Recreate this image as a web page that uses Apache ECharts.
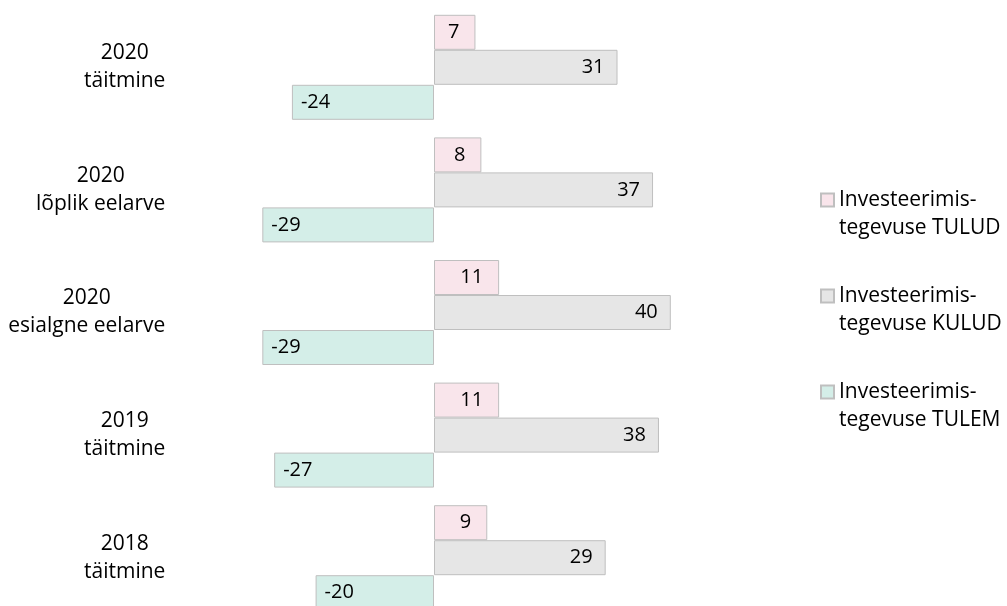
<!DOCTYPE html>
<html>
<head>
<meta charset="utf-8">
<script src="https://cdn.jsdelivr.net/npm/echarts@6/dist/echarts.min.js"></script>
<style>html,body{margin:0;padding:0;background:#fff}#c{width:1007px;height:606px}</style>
</head>
<body>
<div id="c"></div>
<script>
const categories = ['2020\ntäitmine', '2020\nlõplik eelarve', '2020\nesialgne eelarve', '2019\ntäitmine', '2018\ntäitmine'];
const seriesNames = ['Investeerimis-\ntegevuse TULUD', 'Investeerimis-\ntegevuse KULUD', 'Investeerimis-\ntegevuse TULEM'];
const tulud = [7, 8, 11, 11, 9];
const kulud = [31, 37, 40, 38, 29];
const tulem = [-24, -29, -29, -27, -20];

const FONT = 'Open Sans';
const FS = 21;
const FSV = 20;
const ctx = document.createElement('canvas').getContext('2d');
ctx.font = FS + 'px "' + FONT + '"';
function blockWidth(s) {
  return Math.ceil(Math.max.apply(null, s.split('\n').map(l => ctx.measureText(l).width))) + 1;
}
const chart = echarts.init(document.getElementById('c'));
function mk(name, data, fill, pos, dist) {
  return {
    name: name, type: 'bar', data: data,
    barWidth: 35, barGap: '0%',
    itemStyle: { color: fill, borderColor: '#BFBFBF', borderWidth: 1 },
    label: { show: true, position: pos, distance: dist, color: '#000', fontFamily: FONT, fontSize: FSV },
    emphasis: { disabled: true }, animation: false
  };
}
const rich = {};
categories.forEach((c, i) => {
  rich['c' + i] = { width: blockWidth(c), align: 'center', fontFamily: FONT, fontSize: FS, lineHeight: 28, color: '#000' };
});
chart.setOption({
  animation: false,
  grid: { left: 197.2, width: 592, top: 6, height: 613, containLabel: false, outerBoundsMode: 'none' },
  xAxis: { type: 'value', min: -40, max: 60, show: false, splitLine: { show: false } },
  yAxis: {
    type: 'category', data: categories, inverse: true,
    axisLine: { show: false, onZero: false }, axisTick: { show: false },
    axisLabel: {
      margin: 31, align: 'right',
      formatter: (v) => {
        const k = 'c' + categories.indexOf(v);
        return '{' + k + '|' + v.split('\n').join('}\n{' + k + '|') + '}';
      },
      rich: rich
    }
  },
  legend: {
    orient: 'vertical', left: 820, top: 158, padding: 0, itemWidth: 13, itemHeight: 13, itemGap: 12,
    icon: 'rect',
    formatter: n => ' \n' + n,
    textStyle: { fontFamily: FONT, fontSize: FS, lineHeight: 28, color: '#000' },
    data: seriesNames
  },
  series: [
    mk(seriesNames[0], tulud, '#F9E5EB', 'insideRight', 16),
    mk(seriesNames[1], kulud, '#E6E6E6', 'insideRight', 13),
    mk(seriesNames[2], tulem, '#D4EEE8', 'insideLeft', 9)
  ]
});
</script>
</body>
</html>
